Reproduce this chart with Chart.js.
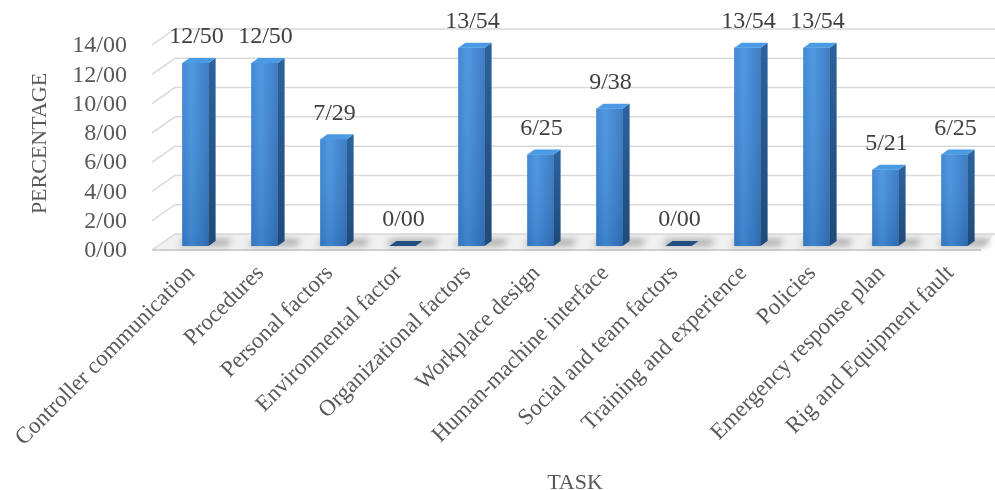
<!DOCTYPE html>
<html>
<head>
<meta charset="utf-8">
<script src="https://cdn.jsdelivr.net/npm/chart.js@4.4.1/dist/chart.umd.min.js"></script>
<style>
  html, body { margin: 0; padding: 0; background: #ffffff; }
  #wrap { width: 995px; height: 490px; }
</style>
</head>
<body>
<div id="wrap"><canvas id="myChart"></canvas></div>
<script>
// Datos del grafico
const categorias = [
    'Controller communication', 'Procedures', 'Personal factors', 'Environmental factor',
    'Organizational factors', 'Workplace design', 'Human-machine interface',
    'Social and team factors', 'Training and experience', 'Policies',
    'Emergency response plan', 'Rig and Equipment fault'
];
const valores = [12.50, 12.50, 7.29, 0.00, 13.54, 6.25, 9.38, 0.00, 13.54, 13.54, 5.21, 6.25];
const ticksY = [0, 2, 4, 6, 8, 10, 12, 14];
const tituloX = 'TASK';
const tituloY = 'PERCENTAGE';

// decimal con barra, como en el original
const fmt = v => Number(v).toFixed(2).replace('.', '/');

const FUENTE = '"Liberation Serif", "DejaVu Serif", serif';
const GRIS = '#595959';

// Efecto 3D: pared, piso, caras laterales y etiquetas
const efecto3d = {
    id: 'efecto3d',
    beforeDatasetsDraw(chart) {
        const ctx = chart.ctx;
        const area = chart.chartArea;
        const y = chart.scales.y;
        const fx = area.left - 9, bx = area.left + 14;
        const y0 = y.getPixelForValue(0);

        ctx.save();
        // piso
        ctx.fillStyle = '#f0f0f0';
        ctx.beginPath();
        ctx.moveTo(fx, y0 + 4);
        ctx.lineTo(area.right - 8, y0 + 4);
        ctx.lineTo(chart.width, y0 - 12);
        ctx.lineTo(bx, y0 - 12);
        ctx.closePath();
        ctx.fill();

        // lineas de la grilla
        ctx.strokeStyle = '#d9d9d9';
        ctx.lineWidth = 1.5;
        ticksY.forEach(v => {
            const p = y.getPixelForValue(v);
            ctx.beginPath();
            ctx.moveTo(fx, p + 4);
            ctx.lineTo(bx, p - 12);
            ctx.lineTo(chart.width, p - 12);
            ctx.stroke();
        });
        ctx.strokeStyle = '#d0d0d0';
        ctx.lineWidth = 2;
        ctx.beginPath();
        ctx.moveTo(fx, y0 + 4);
        ctx.lineTo(area.right - 8, y0 + 4);
        ctx.stroke();

        // sombras en el piso
        const meta = chart.getDatasetMeta(0);
        ctx.filter = 'blur(3px)';
        ctx.fillStyle = 'rgba(90,90,90,0.45)';
        meta.data.forEach(bar => {
            const w = bar.width;
            ctx.beginPath();
            ctx.moveTo(bar.x - w / 2 - 4, bar.base);
            ctx.lineTo(bar.x + w / 2 + 18, bar.base);
            ctx.lineTo(bar.x + w / 2 + 24, bar.base - 7);
            ctx.lineTo(bar.x - w / 2 + 2, bar.base - 7);
            ctx.closePath();
            ctx.fill();
        });
        ctx.filter = 'none';
        ctx.restore();
    },
    afterDatasetsDraw(chart) {
        const ctx = chart.ctx;
        const meta = chart.getDatasetMeta(0);
        const dx = 7, dy = 5;
        ctx.save();
        meta.data.forEach((bar, i) => {
            const l = bar.x - bar.width / 2, r = bar.x + bar.width / 2;
            const top = bar.y, base = bar.base;

            // cara frontal
            if (base - top > 0.5) {
                const g = ctx.createLinearGradient(l, 0, r, 0);
                g.addColorStop(0, '#3a82cf');
                g.addColorStop(0.35, '#4693df');
                g.addColorStop(1, '#3576c0');
                ctx.fillStyle = g;
                ctx.fillRect(l, top, r - l, base - top);
                const gv = ctx.createLinearGradient(0, top, 0, base);
                gv.addColorStop(0, 'rgba(255,255,255,0.05)');
                gv.addColorStop(1, 'rgba(0,20,60,0.12)');
                ctx.fillStyle = gv;
                ctx.fillRect(l, top, r - l, base - top);

                // cara lateral
                const gs = ctx.createLinearGradient(0, top, 0, base);
                gs.addColorStop(0, '#2b629c');
                gs.addColorStop(1, '#1f4a79');
                ctx.fillStyle = gs;
                ctx.beginPath();
                ctx.moveTo(r, top);
                ctx.lineTo(r + dx, top - dy);
                ctx.lineTo(r + dx, base - dy);
                ctx.lineTo(r, base);
                ctx.closePath();
                ctx.fill();
            }

            // cara superior
            ctx.fillStyle = (base - top > 0.5) ? '#4a9be4' : '#234f80';
            ctx.beginPath();
            ctx.moveTo(l, top);
            ctx.lineTo(r, top);
            ctx.lineTo(r + dx, top - dy);
            ctx.lineTo(l + dx, top - dy);
            ctx.closePath();
            ctx.fill();

            // etiqueta de valor
            ctx.fillStyle = '#404040';
            ctx.font = '24px ' + FUENTE;
            ctx.textAlign = 'center';
            ctx.textBaseline = 'middle';
            ctx.fillText(fmt(valores[i]), bar.x + 1, top - 26);
        });
        ctx.restore();
    }
};

const ctx = document.getElementById('myChart').getContext('2d');
const graficoChart = new Chart(ctx, {
    type: 'bar',
    data: {
        labels: categorias,
        datasets: [{
            label: tituloY,
            data: valores,
            backgroundColor: '#3d86d3',
            borderWidth: 0,
            barPercentage: 0.38,
            categoryPercentage: 1
        }]
    },
    options: {
        responsive: true,
        maintainAspectRatio: false,
        animation: false,
        layout: { padding: { left: 27, right: 6, top: 41, bottom: 0 } },
        plugins: {
            legend: { display: false },
            tooltip: { enabled: false }
        },
        scales: {
            x: {
                grid: { display: false },
                border: { display: false },
                afterFit: s => { s.height = 244; s.paddingLeft = 0; s.paddingRight = 0; },
                ticks: {
                    autoSkip: false,
                    minRotation: 45,
                    maxRotation: 45,
                    padding: 6,
                    labelOffset: -4,
                    color: GRIS,
                    font: { family: FUENTE, size: 23 }
                },
                title: {
                    display: true,
                    text: tituloX,
                    color: GRIS,
                    padding: { top: 0, bottom: -6 },
                    font: { family: FUENTE, size: 22 }
                }
            },
            y: {
                min: 0,
                max: 14,
                afterBuildTicks: axis => { axis.ticks = ticksY.map(v => ({ value: v })); },
                afterFit: s => { s.width = 134; },
                grid: { display: false },
                border: { display: false },
                ticks: {
                    autoSkip: false,
                    padding: 26,
                    labelOffset: 5,
                    color: GRIS,
                    font: { family: FUENTE, size: 24 },
                    callback: v => fmt(v)
                },
                title: {
                    display: true,
                    text: tituloY,
                    color: GRIS,
                    padding: { top: 0, bottom: 6 },
                    font: { family: FUENTE, size: 22 }
                }
            }
        }
    },
    plugins: [efecto3d]
});
</script>
</body>
</html>
